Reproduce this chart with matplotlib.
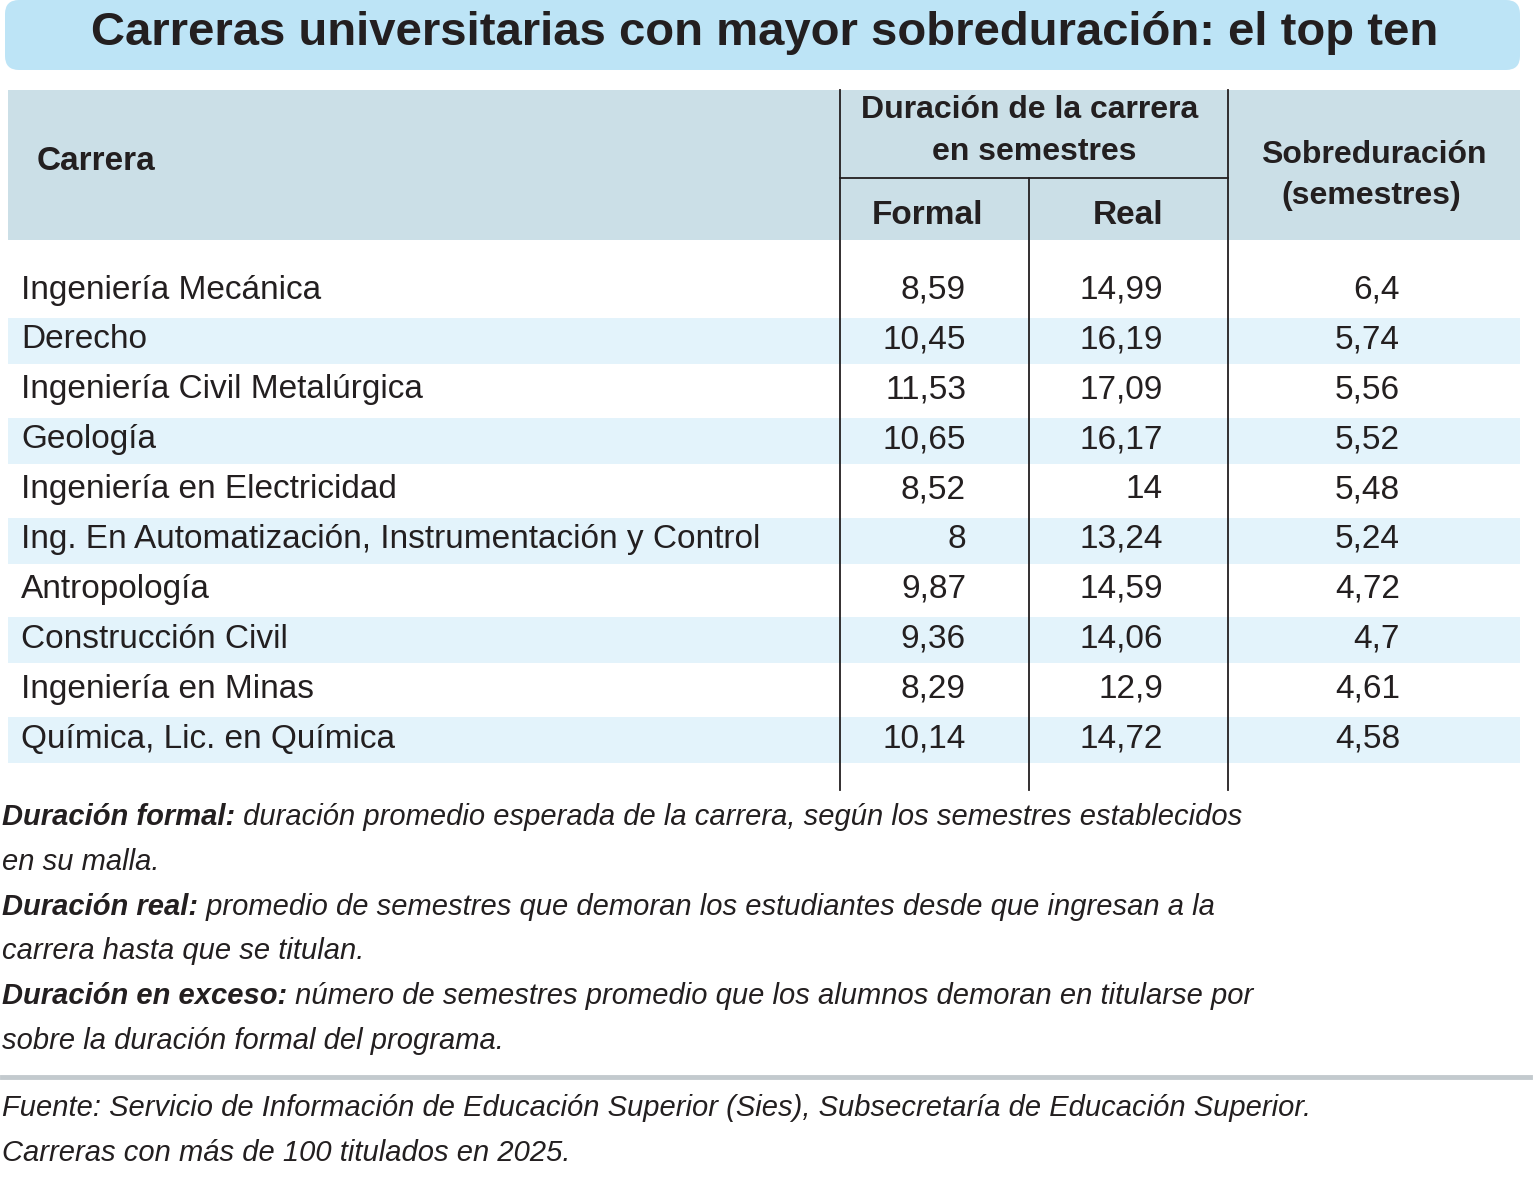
import matplotlib.pyplot as plt
from matplotlib.patches import Rectangle, FancyBboxPatch

carreras = ["Ingeniería Mecánica", "Derecho", "Ingeniería Civil Metalúrgica", "Geología",
            "Ingeniería en Electricidad", "Ing. En Automatización, Instrumentación y Control",
            "Antropología", "Construcción Civil", "Ingeniería en Minas", "Química, Lic. en Química"]
formal = ["8,59", "10,45", "11,53", "10,65", "8,52", "8", "9,87", "9,36", "8,29", "10,14"]
real = ["14,99", "16,19", "17,09", "16,17", "14", "13,24", "14,59", "14,06", "12,9", "14,72"]
sobre = ["6,4", "5,74", "5,56", "5,52", "5,48", "5,24", "4,72", "4,7", "4,61", "4,58"]

notas = [
    ("Duración formal:", " duración promedio esperada de la carrera, según los semestres establecidos"),
    ("", "en su malla."),
    ("Duración real:", " promedio de semestres que demoran los estudiantes desde que ingresan a la"),
    ("", "carrera hasta que se titulan."),
    ("Duración en exceso:", " número de semestres promedio que los alumnos demoran en titularse por"),
    ("", "sobre la duración formal del programa."),
]
fuente = ["Fuente: Servicio de Información de Educación Superior (Sies), Subsecretaría de Educación Superior.",
          "Carreras con más de 100 titulados en 2025."]

plt.rcParams['font.family'] = ['Liberation Sans', 'DejaVu Sans']
fig = plt.figure(figsize=(15.35, 11.77), dpi=100)
ax = fig.add_axes([0, 0, 1, 1])
ax.set_xlim(0, 1535)
ax.set_ylim(1177, 0)
ax.axis('off')
dark = '#231f20'
renderer = fig.canvas.get_renderer()


def width_px(t):
    return t.get_window_extent(renderer).width


# title band
ax.add_patch(FancyBboxPatch((5, 0), 1515, 70, boxstyle="round,pad=0,rounding_size=14",
                            fc='#bde4f6', ec='none'))
ax.text(765, 33, "Carreras universitarias con mayor sobreduración: el top ten", ha='center', va='center',
        fontsize=34, fontweight='bold', color=dark)

# header
hs = 24
ax.add_patch(Rectangle((8, 90), 1512, 150, fc='#cbdfe7', ec='none'))
ax.text(37, 162, "Carrera", ha='left', va='center', fontsize=hs, fontweight='bold', color=dark)
ax.text(1030, 110, "Duración de la carrera", ha='center', va='center', fontsize=hs - 1, fontweight='bold', color=dark)
ax.text(1034, 152, "en semestres", ha='center', va='center', fontsize=hs - 1, fontweight='bold', color=dark)
ax.text(928, 215, "Formal", ha='center', va='center', fontsize=hs, fontweight='bold', color=dark)
ax.text(1128, 215, "Real", ha='center', va='center', fontsize=hs, fontweight='bold', color=dark)
ax.text(1374, 155, "Sobreduración", ha='center', va='center', fontsize=hs - 1, fontweight='bold', color=dark)
ax.text(1371, 196, "(semestres)", ha='center', va='center', fontsize=hs - 1, fontweight='bold', color=dark)

# rows
rs = 24
y0, dy = 290, 49.9
for i, (c, f, r, s) in enumerate(zip(carreras, formal, real, sobre)):
    y = y0 + i * dy
    if i % 2 == 1:
        ax.add_patch(Rectangle((8, y - 22), 1512, 46, fc='#e3f3fb', ec='none'))
    ax.text(21, y, c, ha='left', va='center', fontsize=rs, color=dark)
    ax.text(966, y, f, ha='right', va='center', fontsize=rs, color=dark)
    ax.text(1163, y, r, ha='right', va='center', fontsize=rs, color=dark)
    ax.text(1400, y, s, ha='right', va='center', fontsize=rs, color=dark)

# grid lines
ax.plot([840, 840], [90, 790], color=dark, lw=1.3)
ax.plot([1029, 1029], [178, 790], color=dark, lw=1.3)
ax.plot([1228, 1228], [90, 790], color=dark, lw=1.3)
ax.plot([840, 1228], [178, 178], color=dark, lw=1.3)

# notes
ns = 21
for j, (b, t) in enumerate(notas):
    y = 817 + j * 44.8
    x = 2
    if b:
        tb = ax.text(2, y, b, ha='left', va='center', fontsize=ns, fontweight='bold', style='italic', color=dark)
        x = 2 + width_px(tb)
    ax.text(x, y, t, ha='left', va='center', fontsize=ns, style='italic', color=dark)

ax.plot([2, 1530], [1077, 1077], color='#c3cace', lw=3.5)
for j, t in enumerate(fuente):
    ax.text(2, 1108 + j * 45, t, ha='left', va='center', fontsize=21, style='italic', color=dark)

fig.savefig('out.png', dpi=100, facecolor='white')
